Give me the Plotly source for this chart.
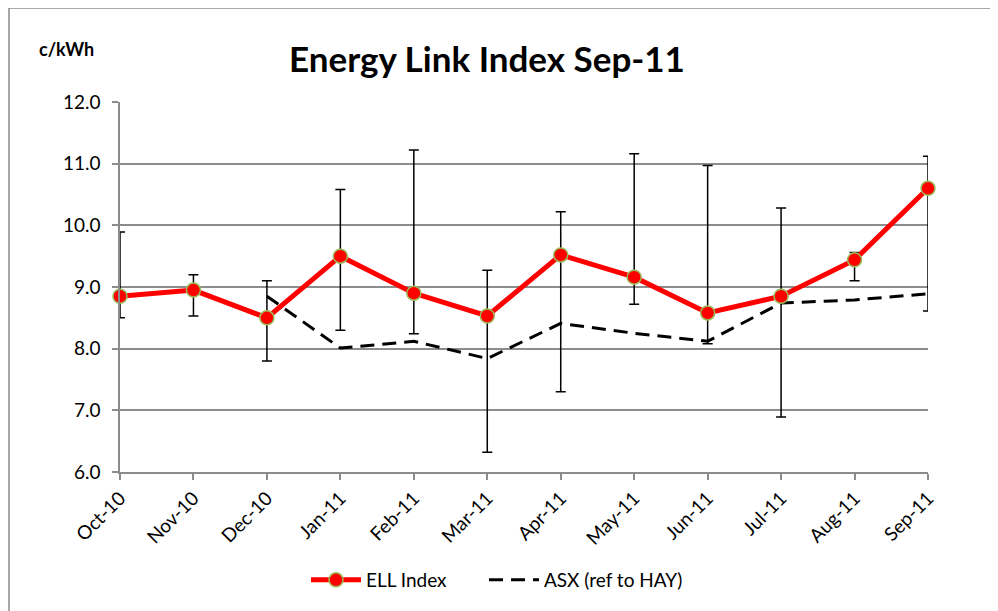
import plotly.graph_objects as go

months = ["Oct-10", "Nov-10", "Dec-10", "Jan-11", "Feb-11", "Mar-11",
          "Apr-11", "May-11", "Jun-11", "Jul-11", "Aug-11", "Sep-11"]
ell_index = [8.85, 8.95, 8.50, 9.50, 8.90, 8.53, 9.52, 9.16, 8.58, 8.85, 9.44, 10.60]
ell_high = [9.89, 9.20, 9.10, 10.58, 11.22, 9.27, 10.22, 11.16, 10.97, 10.28, 9.56, 11.12]
ell_low = [8.50, 8.53, 7.80, 8.30, 8.24, 6.32, 7.30, 8.72, 8.08, 6.89, 9.10, 8.61]
asx = [None, None, 8.85, 8.01, 8.12, 7.84, 8.41, 8.25, 8.12, 8.74, 8.79, 8.89]

FONT = "Lato, Calibri, Carlito, sans-serif"
GRID = "#8c8c8c"

err_plus = [h - v for h, v in zip(ell_high, ell_index)]
err_minus = [v - l for v, l in zip(ell_index, ell_low)]

fig = go.Figure()
fig.add_trace(go.Scatter(
    x=months, y=asx, name="ASX (ref to HAY)", mode="lines",
    line=dict(color="black", width=3, dash="14px,8px"),
    connectgaps=False, cliponaxis=False, legend="legend2",
))
fig.add_trace(go.Scatter(
    x=months, y=ell_index, name="ELL Index", mode="lines+markers",
    line=dict(color="#ff0000", width=5),
    marker=dict(size=14, color="#ff0000", line=dict(color="#9bbb59", width=1.5)),
    error_y=dict(type="data", symmetric=False, array=err_plus, arrayminus=err_minus,
                 color="black", thickness=1.5, width=5),
    cliponaxis=False, legend="legend",
))

# the page body adds an 8px offset, so work in page pixels minus 8
OFF = 8
W, H = 998 - OFF, 611 - OFF
L, R, T, B = 120 - OFF, 998 - 928, 102 - OFF, 611 - 472
pw, ph = W - L - R, H - T - B

def px(x):
    return (x - OFF - L) / pw

def py(y):
    return (H - B - (y - OFF)) / ph

legend_common = dict(orientation="h", yanchor="middle", xanchor="left",
                     font=dict(size=19, family=FONT), itemwidth=50,
                     bgcolor="rgba(0,0,0,0)")

fig.update_layout(
    width=W, height=H,
    margin=dict(l=L, r=R, t=T, b=B, autoexpand=False),
    paper_bgcolor="white", plot_bgcolor="white",
    font=dict(family=FONT, size=19, color="black"),
    showlegend=True,
    legend=dict(x=px(306), y=py(580), **legend_common),
    legend2=dict(x=px(484), y=py(580), **legend_common),
    xaxis=dict(
        type="category", range=[0, len(months) - 1],
        showline=True, linecolor=GRID, linewidth=1.5,
        ticks="outside", ticklen=6, tickcolor=GRID, tickwidth=1.5,
        tickangle=-45, showgrid=False, tickfont=dict(size=19),
    ),
    yaxis=dict(
        range=[6, 12], dtick=1, tickformat=".1f",
        showline=True, linecolor=GRID, linewidth=1.5,
        ticks="outside", ticklen=6, tickcolor=GRID, tickwidth=1.5,
        showgrid=True, gridcolor=GRID, gridwidth=1.5, zeroline=False,
        tickfont=dict(size=19), ticklabelstandoff=8,
    ),
    shapes=[dict(type="rect", xref="paper", yref="paper",
                 x0=px(9), x1=px(995), y0=py(640), y1=py(8),
                 line=dict(color="#8c8c8c", width=1.5), fillcolor="rgba(0,0,0,0)",
                 layer="below")],
    annotations=[
        dict(text="<b>Energy Link Index Sep-11</b>", xref="paper", yref="paper",
             x=px(487), y=py(58), xanchor="center", yanchor="middle",
             showarrow=False, font=dict(size=35, family=FONT)),
        dict(text="<b>c/kWh</b>", xref="paper", yref="paper",
             x=px(66), y=py(49), xanchor="center", yanchor="middle",
             showarrow=False, font=dict(size=18, family=FONT)),
    ],
)

fig.write_html("out.html")
